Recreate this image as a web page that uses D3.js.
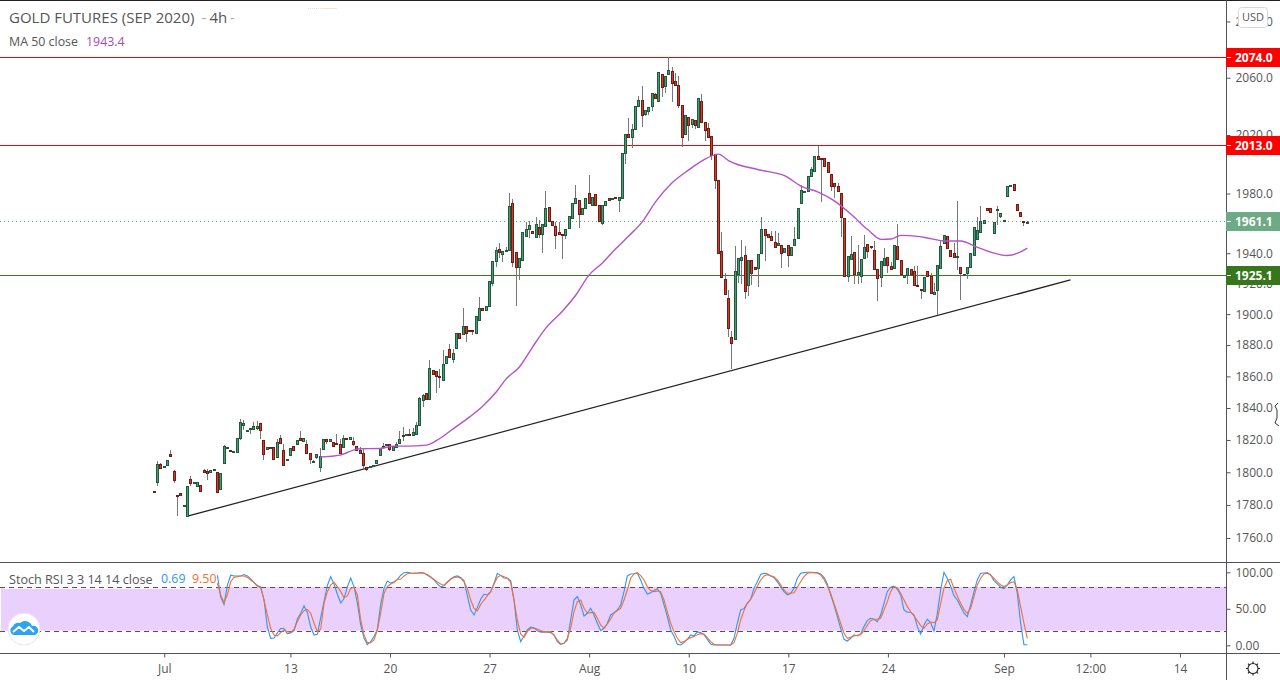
<!DOCTYPE html>
<html><head><meta charset="utf-8">
<style>
html,body{margin:0;padding:0;background:#fff;overflow:hidden}
svg{display:block}
text{font-family:"Open Sans","Noto Sans",sans-serif}
</style>
<script src="https://cdn.jsdelivr.net/npm/d3@7"></script>
</head><body><svg id="c" width="1280" height="680"></svg>
<script>
const opens=[1788.7,1793.9,1805.2,1803.2,1804.4,1811.4,1800.5,1786,1787,1779.8,
1773.2,1796,1793.8,1791.4,1792.2,1801.5,1800.9,1800.3,1802,1800.3,
1789.8,1805.9,1815.7,1813.9,1812.7,1812.7,1821.4,1829.2,1825.7,1826.7,
1826.7,1827.5,1830.6,1820.1,1814.5,1815.8,1815.8,1809.6,1821.4,1813.9,
1807.7,1810.8,1816.4,1817.6,1821.4,1819.5,1817.6,1812.1,1806.5,1809.6,
1803.2,1814.5,1820.7,1819.5,1818.9,1818.3,1817.6,1815.8,1821.4,1820.7,
1819.5,1816.4,1813.9,1812.1,1803.2,1803.5,1804,1805.9,1810.8,1816.4,
1817.2,1817.6,1813.9,1815.8,1818.3,1823.2,1823.4,1823.8,1823.4,1823.8,
1829.4,1845.3,1849.2,1845.7,1863.9,1863.7,1860,1857.5,1868.8,1877.4,
1871.4,1878.1,1887.6,1887,1892.2,1889.5,1889.6,1888.1,1896.2,1903.9,
1902.6,1905.2,1920.2,1935,1942.7,1939.8,1942,1942.2,1973.5,1940.9,
1931.2,1935.2,1951.7,1956,1954.7,1950.6,1957.3,1953.1,1958.4,1971,
1961.8,1958,1953.9,1953.1,1952.4,1956.9,1963.8,1973.5,1975.5,1966.5,
1970.1,1980.2,1972.4,1979.6,1972.4,1960,1972.4,1976.9,1976.7,1977.8,
1975.5,1977.3,2007.5,2020.6,2019,2024.5,2040.1,2044.3,2034.3,2037,
2039.9,2048.4,2043.5,2062.6,2053.9,2062.6,2064.7,2057.6,2054.8,2040.8,
2020.4,2032.4,2027.4,2030.3,2025.7,2043.5,2028.7,2024.8,2019.2,2007,
1989,1941.3,1922.8,1910.3,1885.1,1883.9,1926.5,1935.3,1938.8,1919,
1935.5,1931.1,1930,1939.9,1956,1952.5,1951.2,1947.5,1945.3,1945.3,
1940.9,1945.3,1938.8,1945.5,1950.1,1973.6,1981.7,1981.7,1992.2,1995.5,
2005.4,2004.5,2004,2001.7,1993.3,1987.2,1985.2,1980.4,1963.3,1924.9,
1936.1,1940.5,1926,1924.9,1936.8,1946,1944.9,1942.2,1929.8,1924.1,
1932.4,1937.5,1931.7,1930.2,1944.9,1935.5,1924.3,1925.6,1929.5,1928.2,
1919,1916.6,1915.1,1928.2,1925.1,1912.9,1915.7,1930.2,1946.8,1951.4,
1942.2,1940.2,1937.6,1930.9,1925.5,1927.2,1930.9,1938.8,1949.2,1954.3,
1960.1,1970.2,1970.2,1953.8,1968.9,1964.8,1962.1,1978.3,1985.7,1986.6,
1973,1967.5,1961.4,1960.7];
const highs=[1788.7,1806.7,1805.5,1804,1807.6,1813.5,1801.3,1786,1787,1780,
1791.6,1798,1794,1793.9,1792.2,1802.1,1802.1,1801.5,1802.2,1800.3,
1799.7,1816.6,1815.9,1813.9,1813.3,1821.4,1833.3,1832.7,1825.9,1827.5,
1831.5,1831.9,1830.6,1820.1,1815.8,1815.8,1815.8,1820.3,1822.8,1817.6,
1808.3,1815.2,1816.4,1820.1,1825.7,1821.4,1819.9,1812.1,1807.5,1811.4,
1815.2,1820.7,1820.7,1820.7,1818.9,1824,1820.3,1822.8,1821.4,1822,
1822,1816.4,1815.8,1814.1,1803.2,1803.7,1804.2,1807.7,1815.2,1818.3,
1817.6,1817.6,1816.4,1818.9,1825.7,1828.2,1823.8,1826.9,1827.5,1831,
1847,1849,1849.2,1870.6,1864,1863.7,1864.8,1877,1873.1,1880.8,
1877.7,1887.6,1887.6,1904.2,1892.2,1889.5,1889.6,1898.8,1910.9,1903.9,
1905.2,1921.7,1935,1944.4,1946.9,1941.5,1944.4,1980.2,1976.2,1940.9,
1936.7,1954.2,1961.1,1961.8,1954.7,1964.5,1962.3,1959.3,1981.4,1971,
1961.8,1961.1,1961.1,1953.1,1956.3,1964.7,1973.5,1985.9,1975.5,1970.1,
1976.9,1992.5,1977.8,1979.6,1972.4,1972.4,1975.1,1976.9,1976.9,1977.8,
1977.8,2007.7,2020.6,2031.8,2027.5,2040.1,2046.9,2054.3,2037.5,2039.4,
2049.1,2049.6,2064,2062.6,2061.2,2074.6,2067.5,2063.2,2061.4,2040.8,
2033.8,2032.4,2031,2030.3,2045.7,2048.4,2028.7,2028.2,2019.2,2007,
1989,1954.2,1927.2,1916,1889,1944.9,1936.8,1949,1944.5,1935.5,
1935.5,1931.1,1939.4,1964,1956,1952.5,1955,1954.5,1953.4,1945.3,
1943.5,1945.3,1944.2,1957.8,1970.2,1986,1981.9,1992,1998,2005.6,
2012.7,2004.5,2004,2001.7,1993.3,1987.2,1987,1980.4,1963.3,1937.9,
1951.2,1940.5,1945.6,1936.1,1952.1,1946,1944.9,1948,1929.8,1934.8,
1943.5,1937.5,1934.4,1945.5,1959.6,1935.5,1925.4,1930.2,1929.5,1931.3,
1931.7,1916.6,1924.3,1928.2,1926.9,1920.3,1932.2,1948,1952.1,1951.4,
1942.2,1946.8,1974.8,1930.9,1926.5,1930.9,1940.2,1957.4,1964.1,1971.8,
1962.1,1970.2,1970.2,1960.8,1971.8,1967,1962.3,1985.2,1985.9,1986.6,
1973,1967.5,1961.4,1961.4];
const lows=[1787.7,1791.4,1802.5,1803,1804,1810,1793.5,1773.2,1785.2,1779.8,
1773.2,1791.8,1793.8,1791.4,1788.5,1800.3,1795.1,1800.3,1802,1787.9,
1789.8,1805.9,1815.7,1813.1,1812.1,1812.7,1819.9,1826.5,1825.7,1824,
1826.7,1826.1,1820.9,1807.5,1814.5,1814.1,1808.3,1809.6,1818.3,1803.8,
1807.7,1810.8,1813.9,1817.6,1820.1,1819.5,1812.1,1805,1806.5,1808.3,
1800.1,1814.5,1817.6,1819.5,1816.4,1817.6,1812.1,1815.8,1820.7,1820.7,
1816.4,1813.9,1812.1,1802.2,1800.7,1803.5,1804,1805.9,1810.8,1815.6,
1817.2,1813.1,1813.9,1815.8,1818.3,1819.3,1823.4,1823.4,1823.4,1823.8,
1829.4,1840.6,1845.7,1845.7,1861.4,1849.6,1852.8,1857.5,1868.8,1872.3,
1868.4,1878.1,1884.8,1887,1882.2,1889.3,1886.3,1888.1,1896.2,1902.6,
1902.6,1905.2,1918.7,1930.7,1936.7,1934.5,1942,1942.2,1930.8,1905.4,
1922.4,1935.2,1951.7,1949.9,1953.8,1950.6,1949.9,1940.4,1958.4,1961.8,
1959.1,1942.9,1952.6,1936,1949.4,1956.9,1963.8,1973.5,1957.1,1966.5,
1970.1,1973.5,1972.4,1972.4,1961.8,1958.7,1972.4,1975.5,1976.7,1976.9,
1967.6,1977.3,2000.3,2019,2011.4,2024.5,2040.1,2025.9,2032.9,2034.1,
2036.4,2046,2043.5,2046.6,2049,2062.6,2042.8,2054.8,2038.7,2011.7,
2020.4,2016.2,2024.8,2024.1,2025.7,2028.7,2016.2,2019,2002.6,1982.9,
1939.9,1924.2,1913,1885,1864.7,1883.9,1920.3,1920,1909.9,1911.6,
1919.2,1929.5,1917.7,1939.9,1934.6,1950.7,1948.8,1944.2,1945.3,1930.2,
1940.9,1930.9,1938.8,1945.5,1950.1,1973.6,1981.7,1981.7,1992.2,1995.5,
2003.5,1974.1,1998.8,1994.7,1981.7,1977,1981.7,1950.5,1924.7,1920.8,
1936.1,1920,1920,1920.3,1936.8,1936.8,1942.5,1929.8,1908.3,1918,
1932.4,1926.9,1929.5,1930.2,1936.1,1926,1924.3,1920,1926,1919,
1918.2,1909.9,1915.1,1925.1,1913.8,1912.9,1899.6,1930.2,1946.8,1943.3,
1938.3,1937.5,1928.6,1909,1925.5,1923,1930.9,1938.8,1949.2,1954.3,
1960.1,1968.9,1967.5,1953.4,1958.9,1963.7,1962.1,1978.3,1985.7,1982.4,
1968.9,1964.8,1958.4,1960.7];
const closes=[1787.7,1805.2,1802.8,1804,1807.3,1810,1795.1,1785.2,1785.8,1780,
1791.6,1793.3,1794,1793.9,1788.5,1800.3,1799.7,1801.5,1802.2,1787.9,
1799.7,1816,1815.9,1813.1,1813.3,1821.4,1831.3,1830.6,1825.9,1827.5,
1828.8,1828.8,1826.1,1811.4,1815.8,1815,1808.3,1818.9,1818.3,1804.4,
1808.3,1815.2,1813.9,1820.1,1820.1,1821.4,1812.1,1808.3,1806.7,1811.4,
1810.2,1820.7,1819.5,1820.7,1816.4,1817.6,1812.1,1821.4,1820.7,1822,
1817.6,1813.9,1812.1,1804.6,1802.2,1803.7,1804.2,1807.7,1815.2,1815.6,
1817.6,1814.5,1816.4,1817.6,1820.7,1822.6,1823.8,1823.4,1824.7,1829.4,
1846,1848.5,1845.7,1865.2,1861.4,1860.3,1859.9,1868,1873.1,1872.3,
1874.8,1887.6,1884.8,1892.4,1888,1889.3,1889.3,1898.8,1903.9,1902.6,
1905.2,1921.7,1935,1942.2,1940.7,1941.5,1942.2,1971.7,1934.5,1930.8,
1936.7,1954.2,1956,1958.7,1953.8,1959.3,1953.1,1959.3,1970.1,1961.8,
1959.1,1952.4,1952.6,1951.9,1956.3,1964.7,1973.5,1976.9,1966.1,1970.1,
1976.9,1973.5,1977.8,1972.4,1961.8,1972.4,1975.1,1975.5,1976.9,1976.9,
1977.8,2007.7,2020.6,2019,2024.3,2040.1,2044.3,2033.8,2037.5,2039.4,
2049.1,2046,2064,2053.4,2061.2,2065.4,2056.2,2054.8,2040.8,2019,
2033.8,2026.9,2031,2026.9,2045.7,2028.7,2023.4,2019,2006.2,1989.5,
1939.9,1924.2,1913,1890.9,1881.3,1928.1,1936.8,1937.5,1915.1,1935.5,
1926.7,1929.5,1939.4,1956,1951.8,1950.7,1948.8,1944.2,1946.8,1940.2,
1943.5,1938.8,1944.2,1949.4,1970.2,1982.4,1981.9,1992,1996.7,2005.6,
2003.5,2004.3,1998.8,1994.7,1985.2,1985.2,1981.7,1964.1,1924.7,1937.9,
1939.4,1926.3,1927.6,1936.1,1944.2,1941.6,1944,1929.8,1923.7,1934.8,
1936.6,1932.2,1929.5,1945.5,1936.1,1926,1925.4,1930.2,1926,1919,
1918.2,1916.4,1924.3,1925.1,1913.8,1914.4,1932.2,1944.9,1952.1,1943.3,
1938.3,1937.5,1937.9,1926.9,1926.5,1930.9,1940.2,1957.4,1955.4,1961.2,
1962.1,1968.9,1967.5,1960.8,1969.6,1967,1962.3,1985.2,1985.9,1982.4,
1968.9,1964.8,1960.6,1961.1];

const maBars=[51,57,61,63,69,73,77,83,87,91,96,100,104,107,111,115,119,124,128,132,136,140,144,148,152,157,162,166,171,174,183,191,196,201,206,211,216,220,223,226,231,235,239,244,248,253,258,262,264];
const maValues=[1809.4,1810.6,1813.7,1814.5,1814.7,1816.2,1816.2,1816.8,1820.9,1826.9,1834.4,1841.3,1850.1,1858.4,1866,1878.9,1891.1,1902.1,1912.5,1925.7,1933.6,1942.9,1951.6,1960.9,1974.4,1987.3,1996.1,2002.3,2006.9,2002.4,1996.2,1992,1984.8,1981,1974.9,1965.8,1955.6,1949.2,1949.5,1951.9,1951.2,1949.7,1948.1,1948.1,1944.8,1940.7,1938.5,1940.9,1943.4];

const stochK=[96,66,56,82,96,95,95,95,97,95,91,86,82,80,62,25,9.6,10,17,23,23,16,17,20,36,44,54,45,25,14,15,38,60,82,94,84,70,58,64,80,92,80,58,28,10,1,5,12,22,56,78,88,85,87,90,
96,99.5,100,99,98.6,98.6,99.5,99,96,93,89.5,84,80,82,87,91,94,95,93,88.6,67.6,48.4,41.6,51.6,63,69.9,69,73.5,85,98.6,95.4,92.2,91.8,88.6,62,21,5,12.8,21,25,24,20,17.8,17.8,17.8,17.4,14.2,5,1.4,2.7,7.3,34.7,62,66.7,55.3,40.2,43.9,50.7,41.6,30.2,20,23.3,30.2,41.6,44.8,48.4,55.3,73.5,95,97.7,98,98.6,89.5,78,70.3,72,75,77.6,71,55.3,39.3,21,12.8,1.4,0.5,3.7,8.2,14.2,12.8,18.3,17.4,14.6,8.2,1.8,0.5,0.5,0.5,0.5,0.5,0.5,9.6,30.2,48.4,50.2,57.5,63,78,87,97,98.6,98,95,92.7,87,80,73.5,69,71,78,91.8,
98.6,99.5,100,100,99.5,99.5,97.7,93,84,69,55.3,39.3,23.3,8.2,5.9,9.6,14.2,12.8,15.5,25.6,33.8,37,35.6,32.4,41.6,57.5,73.5,79.5,81,76.7,69,48.4,45.2,45.2,41.6,25.6,15.5,27.9,35.6,31,19.6,43.9,75.8,100,91.8,81.3,68,62,53,43.9,39.3,55.3,73.5,89.5,98.6,99,99.5,96.4,88.6,84,79.5,77.6,82.7,89.5,94,71.2,30.2,0.69,0.69];
const stochD=[85,69,58.5,69,87,93,94,95,95,93,89.5,85.9,81,79,62,41.6,23,14,12.8,17.4,21,18.7,17.8,22,32.4,41.6,47.5,49.3,43.9,30.2,18.7,22,57.5,73.5,82.7,86.3,80.4,73.5,65.3,67.6,78,79.5,69,34.7,14.2,3.7,3.7,7.3,21,43.9,71,80.4,84,85.9,90.4,
90.4,95,98,98.6,98.6,99,99.5,98.6,97,94,90.4,86.8,84,82,85.9,90.4,93,93.6,92,87,78,62,50.7,47,56,62,67.6,73.5,84,93,95.9,94,91.8,86.3,62,34.7,15.5,11,18.7,23.3,23.3,22.4,20,18.7,18.7,18.7,14,7.3,1.8,2.7,9.6,23.3,46,59.8,62,50.7,43.9,44.8,45.2,37,27.9,23.3,29.2,36,43.9,47.5,50.7,62,75.8,91.8,97.7,99.5,95.4,89.5,80.4,75,73.5,74.4,73.5,62,46,30.2,18.7,9.6,3.7,5,8.2,10.5,11.9,14.6,16,15.5,10.5,5,1.4,0.5,0.5,0.5,0.5,0.5,3.7,16.4,34.7,47.5,57.5,63,71,81,89.5,95,96.8,95.4,94,89.5,82.7,75.8,71.2,71.2,72,79.5,
87,94,98.6,99.5,99.5,99,96.4,90.4,81.3,71.2,57.5,43.9,30.2,16.4,9.6,11,12.8,13.7,14.6,20,27.4,33.8,35.6,35.6,37,48.4,59.8,73.5,80.4,79,71.2,62,53,46,40.2,33.8,27,23.3,29.2,31.5,31,34.7,57.5,78,88.6,90.4,78,67.6,57.5,49.3,43.9,50.7,66.7,82.7,91.8,97.7,98.6,96.4,91.8,87,82.7,80.4,82.7,85.9,87,75.8,53,30.2,9.5];

const yTicks=[2100,2060,2020,1980,1940,1920,1900,1880,1860,1840,1820,1800,1780,1760];
const stochTicks=[0,50,100];
const stochBand=[20,80];
const timeBars=[4,42,72,102,132,162,192,222,257,283,310];
const timeLabels=["Jul","13","20","27","Aug","10","17","24","Sep","12:00","14"];
const trendBars=[11,277];
const trendPrices=[1773.2,1922.4];
const resistance1=2074.0, resistance2=2013.0, support=1925.1, lastPrice=1961.1, maLast=1943.4;
const stochKLast=0.69, stochDLast=9.50;

const svg=d3.select("#c");
const paneR=1226;
const x=d3.scaleLinear().domain([1,264]).range([154.3,1027.3]);
const y=d3.scaleLog().domain([1760,2074]).range([538,57.9]);
const yS=d3.scaleLinear().domain([0,100]).range([645.3,572.3]);
const xS=d3.scaleLinear().domain([0,stochK.length-1]).range([x(20),x(264)]);
const rowY=p=>Math.floor(y(p));

// stoch band
svg.append("rect").attr("x",1).attr("width",paneR-1).attr("y",yS(stochBand[1])).attr("height",yS(stochBand[0])-yS(stochBand[1])).attr("fill","#e9d0fd");
svg.append("rect").attr("x",3).attr("width",213).attr("y",568).attr("height",21).attr("fill","#fff").attr("opacity",0.8);
stochBand.forEach(v=>svg.append("line").attr("x1",0).attr("x2",paneR).attr("y1",Math.round(yS(v))+.5).attr("y2",Math.round(yS(v))+.5).attr("stroke","#5b4a6c").attr("stroke-width",1).attr("stroke-dasharray","5,4"));

// price lines
[[resistance1,"#e00a0a"],[resistance2,"#e00a0a"],[support,"#3a7a1e"]].forEach(([p,c])=>svg.append("line").attr("x1",0).attr("x2",paneR).attr("y1",rowY(p)+.5).attr("y2",rowY(p)+.5).attr("stroke",c).attr("stroke-width",1));
svg.append("line").attr("x1",0).attr("x2",paneR).attr("y1",rowY(lastPrice)+.5).attr("y2",rowY(lastPrice)+.5).attr("stroke","#6fa88a").attr("stroke-dasharray","1,3");

// trend line
const trendData=trendBars.map((b,i)=>[b,trendPrices[i]]);
svg.append("path").attr("d",d3.line().x(d=>x(d[0])).y(d=>y(d[1]))(trendData)).attr("fill","none").attr("stroke","#222").attr("stroke-width",1.3);

// candles
const candles=opens.map((o,i)=>({i:i+1,o,h:highs[i],l:lows[i],c:closes[i]}));
const gc=svg.append("g");
const px=d=>Math.floor(x(d.i));
gc.selectAll("line").data(candles).join("line")
 .attr("x1",d=>px(d)+.5).attr("x2",d=>px(d)+.5).attr("y1",d=>Math.round(y(d.h))).attr("y2",d=>Math.round(y(d.l)))
 .attr("stroke","#777").attr("stroke-width",1);
gc.selectAll("rect").data(candles).join("rect")
 .attr("x",d=>px(d)-.5).attr("width",2)
 .attr("y",d=>Math.round(y(Math.max(d.o,d.c)))+.5)
 .attr("height",d=>Math.max(1,Math.round(y(Math.min(d.o,d.c)))-Math.round(y(Math.max(d.o,d.c)))))
 .attr("fill",d=>d.c>=d.o?"#4b9a74":"#d63a2a")
 .attr("stroke",d=>d.c>=d.o?"#1e5a3e":"#6e1c14").attr("stroke-width",1);

// MA
svg.append("path").attr("d",d3.line().x((d,i)=>x(maBars[i])).y(d=>y(d)).curve(d3.curveMonotoneX)(maValues))
 .attr("fill","none").attr("stroke","#b452c9").attr("stroke-width",1.4);

// stoch
const lS=d3.line().x((d,i)=>xS(i)).y(d=>yS(d)).curve(d3.curveLinear);
svg.append("path").attr("d",lS(stochK)).attr("fill","none").attr("stroke","#2f96f3").attr("stroke-width",1.1);
svg.append("path").attr("d",lS(stochD)).attr("fill","none").attr("stroke","#f4702c").attr("stroke-width",1.1);

// frames
const frame="#50535e";
svg.append("line").attr("x1",0).attr("x2",1280).attr("y1",.5).attr("y2",.5).attr("stroke","#222");
svg.append("line").attr("x1",0).attr("x2",1280).attr("y1",562.5).attr("y2",562.5).attr("stroke",frame);
svg.append("line").attr("x1",0).attr("x2",1280).attr("y1",653.5).attr("y2",653.5).attr("stroke",frame);

// axes
const styleAxis=g=>{g.select(".domain").remove();g.selectAll("line").attr("stroke",frame);g.selectAll("text").attr("fill","#555").attr("font-size",12).style("font-family",'"Open Sans","Noto Sans",sans-serif');};
svg.append("g").attr("transform",`translate(${paneR+.5},0)`).call(d3.axisRight(y).tickValues(yTicks).tickFormat(d3.format(".1f")).tickSize(4).tickPadding(5)).call(styleAxis);
svg.append("g").attr("transform",`translate(${paneR+.5},0)`).call(d3.axisRight(yS).tickValues(stochTicks).tickFormat(d3.format(".2f")).tickSize(4).tickPadding(5)).call(styleAxis);
svg.append("g").attr("transform","translate(0,653.5)").call(d3.axisBottom(x).tickValues(timeBars).tickFormat((d,i)=>timeLabels[i]).tickSize(4).tickPadding(6.5)).call(styleAxis);
svg.append("line").attr("x1",paneR+.5).attr("x2",paneR+.5).attr("y1",0).attr("y2",680).attr("stroke",frame);

// price tags
[[resistance1,"#ff0000"],[resistance2,"#ff0000"],[lastPrice,"#6daa85"],[support,"#38761d"]].forEach(([p,c])=>{
 const yy=rowY(p);
 svg.append("rect").attr("x",paneR).attr("y",yy-9).attr("width",54).attr("height",19).attr("fill",c);
 svg.append("line").attr("x1",paneR+1).attr("x2",paneR+5).attr("y1",yy+.5).attr("y2",yy+.5).attr("stroke","#fff");
 svg.append("text").attr("x",paneR+9).attr("y",yy+.5).attr("dy","0.36em").attr("fill","#fff").attr("font-size",12).attr("font-weight",700).text(d3.format(".1f")(p));
});

// USD
svg.append("rect").attr("x",1238.5).attr("y",7.5).attr("width",29).attr("height",20).attr("rx",3).attr("fill","#fff").attr("stroke","#d8d8d8");
svg.append("text").attr("x",1253).attr("y",17.5).attr("dy","0.36em").attr("text-anchor","middle").attr("fill","#555").attr("font-size",11).text("USD");

// titles
svg.append("text").attr("x",9).attr("y",18).attr("dy","0.36em").attr("font-size",15).attr("fill","#555").text("GOLD FUTURES (SEP 2020)");
svg.append("text").attr("x",201.5).attr("y",18).attr("dy","0.36em").attr("font-size",15).attr("fill","#aaa").text("-");
svg.append("text").attr("x",209.5).attr("y",18).attr("dy","0.36em").attr("font-size",15).attr("fill","#555").text("4h");
svg.append("text").attr("x",230).attr("y",18).attr("dy","0.36em").attr("font-size",15).attr("fill","#aaa").text("-");
svg.append("text").attr("x",9).attr("y",41.5).attr("dy","0.36em").attr("font-size",12.4).attr("fill","#555").text("MA 50 close");
svg.append("text").attr("x",86).attr("y",41.5).attr("dy","0.36em").attr("font-size",12.4).attr("fill","#ab47bc").text(d3.format(".1f")(maLast));
svg.append("text").attr("x",9).attr("y",579).attr("dy","0.36em").attr("font-size",12.6).attr("fill","#555").text("Stoch RSI 3 3 14 14 close");
svg.append("text").attr("x",161).attr("y",579).attr("dy","0.36em").attr("font-size",12.4).attr("fill","#2f96f3").text(stochKLast.toFixed(2));
svg.append("text").attr("x",192).attr("y",579).attr("dy","0.36em").attr("font-size",12.4).attr("fill","#f4702c").text(stochDLast.toFixed(2));

// faint legend remnants
svg.append("line").attr("x1",308).attr("x2",322).attr("y1",8.5).attr("y2",8.5).attr("stroke","#cfe3f5").attr("stroke-dasharray","1,1");
svg.append("line").attr("x1",322).attr("x2",337).attr("y1",8.5).attr("y2",8.5).attr("stroke","#fbe0cc");

// logo
svg.append("circle").attr("cx",24).attr("cy",629).attr("r",16).attr("fill","#fff").attr("stroke","#e8e8e8");
svg.append("path").attr("transform","translate(24,629)")
 .attr("d","M-10,6 a4.5,4.5 0 0 1 -1,-8.5 a6,6 0 0 1 7,-3.5 a7.5,7.5 0 0 1 12,3 a4.5,4.5 0 0 1 3,9 z").attr("fill","#2ea3f2");
svg.append("path").attr("transform","translate(24,629)")
 .attr("d","M-11,3 L-5,-2 L0,2 L5,-2 L10,3").attr("fill","none").attr("stroke","#fff").attr("stroke-width",2);

// gear
const gear=svg.append("g").attr("transform","translate(1253,668.5)").attr("stroke","#222").attr("fill","none");
gear.append("circle").attr("r",5).attr("stroke-width",1.1);
d3.range(8).forEach(i=>{const a=i*Math.PI/4;gear.append("line").attr("x1",5*Math.cos(a)).attr("y1",5*Math.sin(a)).attr("x2",7*Math.cos(a)).attr("y2",7*Math.sin(a)).attr("stroke-width",1.2);});

// resize cursor remnant
svg.append("path").attr("d","M1278,403 L1275,406 L1277,410 L1277,418 L1275,423 L1279,426").attr("fill","none").attr("stroke","#333");
</script></body></html>
